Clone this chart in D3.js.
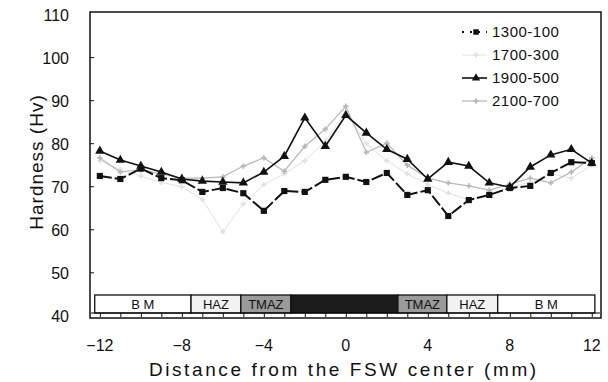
<!DOCTYPE html>
<html>
<head>
<meta charset="utf-8">
<script src="https://cdn.jsdelivr.net/npm/d3@7"></script>
<style>
  body { margin: 0; background: #fff; }
  svg { display: block; font-family: "Liberation Sans", Arial, sans-serif; }
</style>
</head>
<body>
<div id="chart"></div>
<script>
const width = 608;
const height = 382;
const padding = { top: 12, bottom: 64, left: 90, right: 7 };

// distance from FSW center (mm)
const positions = [-12, -11, -10, -9, -8, -7, -6, -5, -4, -3, -2, -1, 0, 1, 2, 3, 4, 5, 6, 7, 8, 9, 10, 11, 12];

const s1300_100 = [72.5, 71.8, 74.2, 72.0, 71.5, 68.8, 69.7, 68.5, 64.4, 69.0, 68.8, 71.6, 72.3, 71.1, 73.2, 68.1, 69.2, 63.2, 66.9, 68.1, 69.7, 70.2, 73.2, 75.7, 75.5];
const s1700_300 = [76.0, 74.0, 72.5, 71.0, 70.0, 67.0, 59.5, 66.0, 70.5, 73.0, 76.0, 80.5, 87.5, 80.0, 76.0, 73.0, 70.5, 68.5, 67.0, 68.0, 70.0, 71.0, 73.0, 72.0, 75.0];
const s1900_500 = [78.3, 76.2, 74.8, 73.4, 71.8, 71.3, 71.1, 70.9, 73.4, 77.1, 86.0, 79.4, 86.6, 82.5, 78.7, 76.4, 71.8, 75.7, 74.8, 70.9, 69.9, 74.6, 77.4, 78.7, 75.5];
const s2100_700 = [76.7, 73.4, 74.0, 73.0, 72.0, 72.0, 72.3, 74.8, 76.7, 73.6, 79.4, 83.4, 88.7, 78.0, 80.1, 75.0, 72.0, 70.9, 70.2, 69.2, 70.6, 72.0, 70.9, 73.4, 76.7];

const seriesNames = ["1300-100", "1700-300", "1900-500", "2100-700"];
const seriesValues = [s1300_100, s1700_300, s1900_500, s2100_700];

const yTicks = [40, 50, 60, 70, 80, 90, 100, 110];
const xTicks = [-12, -8, -4, 0, 4, 8, 12];

// weld zones along the bottom band
const zoneNames = ["B M", "HAZ", "TMAZ", "", "TMAZ", "HAZ", "B M"];
const zoneEdges = [-12.25, -7.55, -5.12, -2.68, 2.54, 4.93, 7.41, 12.15];

const styles = {
  "1300-100": { stroke: "#111", width: 2, dash: "12,3", marker: "square", fill: "#111" },
  "1700-300": { stroke: "#e2e2e2", width: 1, dash: null, marker: "cross", fill: "#e2e2e2" },
  "1900-500": { stroke: "#111", width: 1.6, dash: null, marker: "triangle", fill: "#111" },
  "2100-700": { stroke: "#b8b8b8", width: 1.2, dash: null, marker: "cross", fill: "#b8b8b8" },
};

const chartWidth = width - padding.left - padding.right;
const chartHeight = height - padding.top - padding.bottom;

const xScale = d3.scaleLinear([-12.48, 12.45], [0, chartWidth]);
const yScale = d3.scaleLinear([39.5, 110.6], [chartHeight, 0]);

const svg = d3.select("#chart").append("svg")
  .attr("width", width).attr("height", height);

const chart = svg.append("g")
  .attr("transform", `translate(${padding.left}, ${padding.top})`);

// zone band
const bandTop = chartHeight - 23;
const bandBottom = chartHeight - 5;
const zoneFill = ["#fff", "#f2f2f2", "#9a9a9a", "#1c1c1c", "#9a9a9a", "#f2f2f2", "#fff"];
const zones = chart.append("g").attr("class", "zones");
zones.selectAll("rect")
  .data(zoneNames)
  .join("rect")
  .attr("x", (d, i) => xScale(zoneEdges[i]))
  .attr("y", bandTop)
  .attr("width", (d, i) => xScale(zoneEdges[i + 1]) - xScale(zoneEdges[i]))
  .attr("height", bandBottom - bandTop)
  .attr("fill", (d, i) => zoneFill[i])
  .attr("stroke", "#111")
  .attr("stroke-width", 1.3);
zones.selectAll("text")
  .data(zoneNames)
  .join("text")
  .attr("x", (d, i) => (xScale(zoneEdges[i]) + xScale(zoneEdges[i + 1])) / 2)
  .attr("y", bandTop + 14)
  .attr("text-anchor", "middle")
  .style("font-size", "13px")
  .attr("fill", "#111")
  .text((d) => d);

// mm tick row under the band
const mmAxis = d3.axisBottom(xScale)
  .tickValues(d3.range(-12, 13, 1))
  .tickSize(4)
  .tickSizeOuter(0)
  .tickFormat(() => "");
chart.append("g")
  .attr("transform", `translate(0, ${bandBottom})`)
  .call(mmAxis)
  .call((g) => g.select(".domain").attr("d", `M1,0H${chartWidth - 1}`).attr("stroke-width", 1.2))
  .call((g) => g.selectAll(".tick line").attr("stroke", "#111"));

// lines
const line = d3.line()
  .x((d, i) => xScale(positions[i]))
  .y((d) => yScale(d));

const plots = chart.append("g").attr("class", "series");
const order = [1, 3, 0, 2];
order.forEach((k) => {
  const name = seriesNames[k];
  const st = styles[name];
  const g = plots.append("g");
  g.append("path")
    .datum(seriesValues[k])
    .attr("d", line)
    .attr("fill", "none")
    .attr("stroke", st.stroke)
    .attr("stroke-width", st.width)
    .attr("stroke-dasharray", st.dash);
  const sym = st.marker === "square" ? d3.symbolSquare
    : st.marker === "triangle" ? d3.symbolTriangle : d3.symbolCross;
  g.selectAll("path.pt")
    .data(seriesValues[k])
    .join("path")
    .attr("class", "pt")
    .attr("transform", (d, i) => `translate(${xScale(positions[i])}, ${yScale(d)})`)
    .attr("d", d3.symbol(sym, st.marker === "cross" ? 16 : 38))
    .attr("fill", st.fill);
});

// frame
chart.append("rect")
  .attr("width", chartWidth).attr("height", chartHeight)
  .attr("fill", "none").attr("stroke", "#111").attr("stroke-width", 1.5);

// y axis ticks inside + labels
chart.append("g")
  .selectAll("line")
  .data(yTicks.slice(1, -1))
  .join("line")
  .attr("x1", 0).attr("x2", 4)
  .attr("y1", (d) => yScale(d)).attr("y2", (d) => yScale(d))
  .attr("stroke", "#111");
chart.append("g")
  .selectAll("text")
  .data(yTicks)
  .join("text")
  .attr("x", -21)
  .attr("y", (d) => yScale(d) + 6)
  .attr("text-anchor", "end")
  .style("font-size", "16px")
  .attr("fill", "#111")
  .text((d) => d);

// x labels
chart.append("g")
  .selectAll("text")
  .data(xTicks)
  .join("text")
  .attr("x", (d) => xScale(d))
  .attr("y", chartHeight + 33)
  .attr("text-anchor", "middle")
  .style("font-size", "16px")
  .attr("fill", "#111")
  .text((d) => (d < 0 ? "\u2212" + Math.abs(d) : d));

// axis titles
svg.append("text")
  .attr("x", padding.left + xScale(0) - 2)
  .attr("y", height - 6)
  .attr("text-anchor", "middle")
  .style("font-size", "19px")
  .style("letter-spacing", "2.6px")
  .attr("fill", "#111")
  .text("Distance from the FSW center (mm)");

svg.append("text")
  .attr("transform", "translate(43, 162) rotate(-90)")
  .attr("text-anchor", "middle")
  .style("font-size", "19px")
  .style("letter-spacing", "1px")
  .attr("fill", "#111")
  .text("Hardness (Hv)");

// legend
const legend = svg.append("g").attr("transform", "translate(462, 32)");
seriesNames.forEach((name, i) => {
  const st = styles[name];
  const row = legend.append("g").attr("transform", `translate(0, ${i * 23})`);
  row.append("line")
    .attr("x1", 0).attr("x2", 25)
    .attr("stroke", st.stroke)
    .attr("stroke-width", st.width)
    .attr("stroke-dasharray", name === "1300-100" ? "2,6" : null);
  const sym = st.marker === "square" ? d3.symbolSquare
    : st.marker === "triangle" ? d3.symbolTriangle : d3.symbolCross;
  row.append("path")
    .attr("transform", "translate(14, 0)")
    .attr("d", d3.symbol(sym, st.marker === "cross" ? 16 : 30))
    .attr("fill", st.fill);
  row.append("text")
    .attr("x", 30).attr("y", 5)
    .style("font-size", "15px")
    .style("letter-spacing", "0.5px")
    .attr("fill", "#111")
    .text(name);
});
</script>
</body>
</html>
